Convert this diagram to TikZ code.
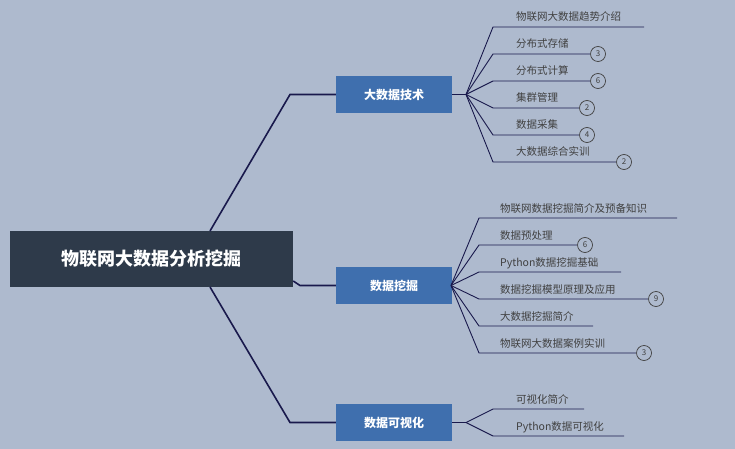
\documentclass[tikz,border=0pt]{standalone}
\usepackage{fontspec}
\setmainfont{Noto Sans CJK SC}
\begin{document}
\begin{tikzpicture}[x=1pt,y=-1pt,
  ln/.style={draw=black!75!blue!80!gray,line width=0.9pt},
  thick ln/.style={draw=black!75!blue!80!gray,line width=1.6pt},
  lf/.style={anchor=base west,font=\fontsize{10.5}{12}\selectfont,text=black!75,inner sep=0pt},
  cnt/.style={circle,draw=black!75,line width=0.7pt,minimum size=15pt,inner sep=0pt,font=\fontsize{8}{9}\selectfont,text=black!75,fill=bgc},
  br/.style={fill=brc,text=white,font=\bfseries\fontsize{12}{14}\selectfont,minimum width=116pt,minimum height=37pt,inner sep=0pt}]
\definecolor{bgc}{HTML}{AEBACE}
\definecolor{brc}{HTML}{3F6FAE}
\definecolor{rootc}{HTML}{2E3A4A}
\fill[bgc] (0,0) rectangle (735,449);
\useasboundingbox (0,0) rectangle (735,449);
\node[fill=rootc,text=white,font=\bfseries\fontsize{18}{20}\selectfont,minimum width=283pt,minimum height=56pt,inner sep=0pt] (root) at (151.5,259) {物联网大数据分析挖掘};
\node[br] (b1) at (394,94.5) {大数据技术};
\node[br] (b2) at (394,285.5) {数据挖掘};
\node[br] (b3) at (394,422.5) {数据可视化};
\coordinate (r1) at (210,231); \coordinate (r3) at (210,287);
\draw[thick ln] (r1) -- (290,94.5) -- (b1.west);
\draw[thick ln] (root.east |- 0,281) -- (300,285.5) -- (b2.west);
\draw[thick ln] (r3) -- (290,422.5) -- (b3.west);
% branch 1
\coordinate (h1) at (466,94.5);
\draw[thick ln] (b1.east) -- (h1);
\foreach \y/\e/\t [count=\i] in {27/644/物联网大数据趋势介绍,54/590/分布式存储,81/590/分布式计算,108/579/集群管理,135/579/数据采集,162/616/大数据综合实训}{
  \coordinate (e1\i) at (\e,\y);
  \draw[ln] (h1) -- (493,\y) -- (e1\i);
  \node[lf] (t1\i) at (516,\y-6) {\t};
}
\node[cnt] (c12) at (598,54) {3};
\node[cnt] (c13) at (598,81) {6};
\node[cnt] (c14) at (587,108) {2};
\node[cnt] (c15) at (587,135) {4};
\node[cnt] (c16) at (624,162) {2};
% branch 2
\coordinate (h2) at (451,285.5);
\foreach \y/\e/\t [count=\i] in {218/677/物联网数据挖掘简介及预备知识,245/577/数据预处理,272/621/Python数据挖掘基础,299/648/数据挖掘模型原理及应用,326/593/大数据挖掘简介,353/636/物联网大数据案例实训}{
  \coordinate (e2\i) at (\e,\y);
  \draw[ln] (h2) -- (479,\y) -- (e2\i);
  \node[lf] (t2\i) at (500,\y-6) {\t};
}
\node[cnt] (c22) at (585,245) {6};
\node[cnt] (c24) at (656,299) {9};
\node[cnt] (c26) at (644,353) {3};
% branch 3
\coordinate (h3) at (466,422.5);
\draw[thick ln] (b3.east) -- (h3);
\foreach \y/\e/\t [count=\i] in {409/584/可视化简介,436/624/Python数据可视化}{
  \coordinate (e3\i) at (\e,\y);
  \draw[ln] (h3) -- (493,\y) -- (e3\i);
  \node[lf] (t3\i) at (516,\y-6) {\t};
}
\end{tikzpicture}
\end{document}
